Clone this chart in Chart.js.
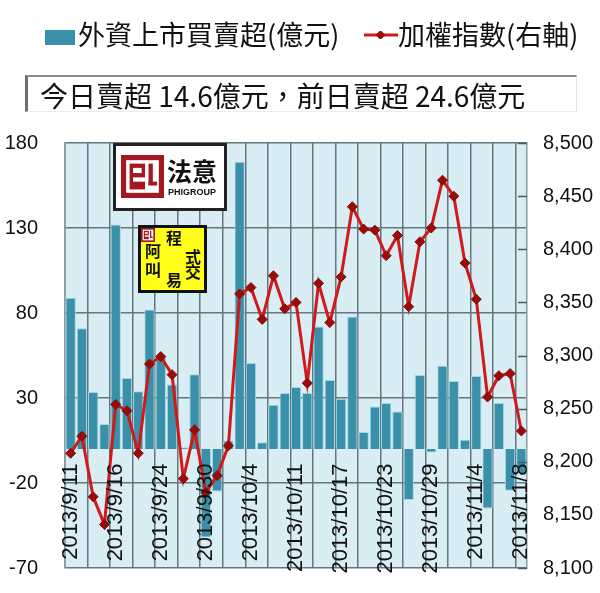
<!DOCTYPE html>
<html>
<head>
<meta charset="utf-8">
<script src="https://cdn.jsdelivr.net/npm/chart.js@4/dist/chart.umd.min.js"></script>
<style>
  html, body { margin: 0; padding: 0; background: #fff; }
  #wrap { position: relative; width: 600px; height: 593px; overflow: hidden; }
  #wrap canvas { position: absolute; left: 0; top: 0; }
  .cjk { font-family: "Noto Sans CJK TC", "Noto Sans CJK SC", sans-serif; color: #111; }
  #legend { position: absolute; left: 0; top: 15px; width: 600px; height: 40px; font-size: 27px; line-height: 38px; white-space: nowrap; }
  #legend .item { position: absolute; top: 0; }
  #legend .box { position: absolute; left: 45px; top: 15px; width: 30px; height: 15px; background: #3a90a8; }
  #legend .lineSwatch { position: absolute; left: 364px; top: 16px; width: 34px; height: 8px; }
  #title { position: absolute; left: 25px; top: 75px; width: 552px; height: 37px;
    border-top: 2px solid #8c8c8c; border-left: 3px solid #6e6e6e; border-right: 1px solid #e2e2e2; border-bottom: 1px solid #ececec;
    font-size: 28px; line-height: 36px; padding-left: 12px; box-sizing: border-box; white-space: nowrap; }
</style>
</head>
<body>
<div id="wrap">
  <canvas id="chart" width="600" height="607"></canvas>
  <div id="legend" class="cjk">
    <span class="box"></span>
    <span class="item" style="left:78px">外資上市買賣超(億元)</span>
    <svg class="lineSwatch" width="34" height="8" viewBox="0 0 34 8">
      <line x1="0" y1="4" x2="34" y2="4" stroke="#d01a1a" stroke-width="3"/>
      <rect x="13" y="0.5" width="7" height="7" fill="#9a0b0b" transform="rotate(45 16.5 4)"/>
    </svg>
    <span class="item" style="left:398px">加權指數(右軸)</span>
  </div>
  <div id="title" class="cjk">今日賣超 14.6億元，前日賣超 24.6億元</div>
</div>
<script>
// 交易日
const dates = [
  '2013/9/11', '2013/9/12', '2013/9/13', '2013/9/14', '2013/9/16', '2013/9/17', '2013/9/18',
  '2013/9/23', '2013/9/24', '2013/9/25', '2013/9/26', '2013/9/27', '2013/9/30',
  '2013/10/1', '2013/10/2', '2013/10/3', '2013/10/4', '2013/10/7', '2013/10/8', '2013/10/9',
  '2013/10/11', '2013/10/14', '2013/10/15', '2013/10/16', '2013/10/17', '2013/10/18',
  '2013/10/21', '2013/10/22', '2013/10/23', '2013/10/24', '2013/10/25', '2013/10/28',
  '2013/10/29', '2013/10/30', '2013/10/31', '2013/11/1', '2013/11/4', '2013/11/5',
  '2013/11/6', '2013/11/7', '2013/11/8'
];

// 外資上市買賣超(億元)
const foreignNet = [
  89, 71, 33.5, 14.7, 132, 41.8, 34, 82, 55, 38, 1, 44, -52,
  -25, 5, 169, 50.6, 4, 26, 33, 36.5, 33, 72, 40.6, 29.5, 78,
  10, 25, 27, 22, -30, 43.5, -2, 49, 40, 5.5, 43, -35, 27, -24.6, -14.6
];

// 加權指數(右軸)
const taiex = [
  8208, 8224, 8167, 8141, 8254, 8248, 8208, 8292, 8299, 8282, 8184, 8230, 8171,
  8187, 8215, 8358, 8364, 8334, 8375, 8344, 8350, 8274, 8368, 8331, 8374, 8440,
  8419, 8418, 8394, 8413, 8346, 8407, 8420, 8465, 8450, 8387, 8353, 8261, 8281, 8283, 8229
];

// 軸の目盛り
const leftTicks = [-70, -20, 30, 80, 130, 180];
const rightTicks = [8100, 8150, 8200, 8250, 8300, 8350, 8400, 8450, 8500];
const labelEvery = 4;

const GRID = '#66767d';
const NUM_FONT = '"Liberation Sans", Arial, sans-serif';
const CJK_FONT = '"Noto Sans CJK TC", "Noto Sans CJK SC", sans-serif';

// プロット背景
const plotBackground = {
  id: 'plotBackground',
  beforeDraw(chart) {
    const { ctx, chartArea: a } = chart;
    ctx.save();
    ctx.fillStyle = '#d9edf4';
    ctx.fillRect(a.left, a.top, a.right - a.left, a.bottom - a.top);
    ctx.restore();
  }
};

// 右軸の内向き目盛り線
const innerTicks = {
  id: 'innerTicks',
  afterDatasetsDraw(chart) {
    const { ctx, chartArea: a } = chart;
    const s = chart.scales.y1;
    ctx.save();
    ctx.strokeStyle = '#4a5a60';
    ctx.lineWidth = 1.5;
    s.ticks.forEach(t => {
      const y = Math.round(s.getPixelForValue(t.value)) + 0.5;
      ctx.beginPath();
      ctx.moveTo(a.right - 9, y);
      ctx.lineTo(a.right, y);
      ctx.stroke();
    });
    ctx.restore();
  }
};

// ロゴ（法意 / 阿叫程式交易）
function drawMark(ctx, x, y, s) {
  ctx.fillStyle = '#a3191f';
  ctx.fillRect(x, y, s, s);
  ctx.fillStyle = '#fff';
  ctx.fillRect(x + s * 0.12, y + s * 0.12, s * 0.76, s * 0.76);
  ctx.fillStyle = '#a3191f';
  ctx.fillRect(x + s * 0.2, y + s * 0.2, s * 0.36, s * 0.6);
  ctx.fillStyle = '#fff';
  ctx.fillRect(x + s * 0.28, y + s * 0.3, s * 0.2, s * 0.12);
  ctx.fillRect(x + s * 0.28, y + s * 0.52, s * 0.28, s * 0.1);
  ctx.fillStyle = '#a3191f';
  ctx.fillRect(x + s * 0.64, y + s * 0.2, s * 0.1, s * 0.5);
  ctx.fillRect(x + s * 0.64, y + s * 0.62, s * 0.2, s * 0.09);
}

const logos = {
  id: 'logos',
  afterDatasetsDraw(chart) {
    const { ctx } = chart;
    ctx.save();
    ctx.fillStyle = '#fff';
    ctx.fillRect(113, 143, 114, 68);
    ctx.lineWidth = 3;
    ctx.strokeStyle = '#222';
    ctx.strokeRect(114.5, 144.5, 111, 65);
    drawMark(ctx, 121, 155, 43);
    ctx.fillStyle = '#111';
    ctx.textBaseline = 'middle';
    ctx.textAlign = 'left';
    ctx.font = `bold 25px ${CJK_FONT}`;
    ctx.fillText('法意', 167, 171);
    ctx.font = `bold 9px ${NUM_FONT}`;
    ctx.fillText('PHIGROUP', 168, 193);

    ctx.fillStyle = '#ffff1a';
    ctx.fillRect(138, 225, 69, 68);
    ctx.strokeStyle = '#111';
    ctx.strokeRect(139.5, 226.5, 66, 65);
    drawMark(ctx, 141, 228, 14);
    ctx.fillStyle = '#111';
    ctx.textAlign = 'center';
    ctx.font = `bold 16px ${CJK_FONT}`;
    [['阿', 153, 251], ['叫', 153, 270], ['程', 174, 238], ['式', 193, 257], ['交', 193, 272], ['易', 174, 280]]
      .forEach(([t, x, y]) => ctx.fillText(t, x, y));
    ctx.restore();
  }
};

Chart.defaults.font.family = NUM_FONT;
Chart.defaults.color = '#111';

new Chart(document.getElementById('chart'), {
  data: {
    labels: dates,
    datasets: [
      {
        type: 'line',
        label: '加權指數(右軸)',
        data: taiex,
        yAxisID: 'y1',
        order: 0,
        borderColor: '#d01a1a',
        borderWidth: 3,
        tension: 0,
        pointStyle: 'rectRot',
        pointRadius: 5,
        pointBackgroundColor: '#9a0b0b',
        pointBorderColor: '#8a0a0a',
        pointBorderWidth: 1
      },
      {
        type: 'bar',
        label: '外資上市買賣超(億元)',
        data: foreignNet,
        yAxisID: 'y',
        order: 1,
        backgroundColor: '#3a90a8',
        borderColor: '#a6d6e4',
        borderWidth: 1,
        barPercentage: 0.92,
        categoryPercentage: 1.0
      }
    ]
  },
  options: {
    responsive: false,
    animation: false,
    layout: { padding: { top: 143, bottom: 12, left: 0, right: 0 } },
    plugins: {
      legend: { display: false },
      tooltip: { enabled: false }
    },
    scales: {
      x: {
        type: 'category',
        position: { y: -5 },
        offset: true,
        border: { display: false },
        grid: {
          drawTicks: false,
          color: c => (c.index % 2 === 0 ? GRID : 'rgba(0,0,0,0)'),
          lineWidth: 1.5
        },
        ticks: {
          z: 1,
          autoSkip: false,
          minRotation: 90,
          maxRotation: 90,
          padding: 6,
          font: { size: 22 },
          color: '#111',
          callback: (v, i) => (i % labelEvery === 0 ? dates[i] : '')
        }
      },
      y: {
        position: 'left',
        min: leftTicks[0],
        max: leftTicks[leftTicks.length - 1],
        afterBuildTicks: s => { s.ticks = leftTicks.map(v => ({ value: v })); },
        afterFit: s => { s.width = 65; },
        border: { color: '#8a9aa0', width: 1.5 },
        grid: { color: GRID, lineWidth: 1.5, drawTicks: false },
        ticks: { padding: 27, font: { size: 20 } }
      },
      y1: {
        position: 'right',
        min: rightTicks[0],
        max: rightTicks[rightTicks.length - 1],
        afterBuildTicks: s => { s.ticks = rightTicks.map(v => ({ value: v })); },
        afterFit: s => { s.width = 73; },
        border: { color: '#8a9aa0', width: 1.5 },
        grid: { drawOnChartArea: false, drawTicks: false },
        ticks: {
          padding: 16,
          font: { size: 20 },
          callback: v => v.toLocaleString('en-US')
        }
      }
    }
  },
  plugins: [plotBackground, innerTicks, logos]
});
</script>
</body>
</html>
